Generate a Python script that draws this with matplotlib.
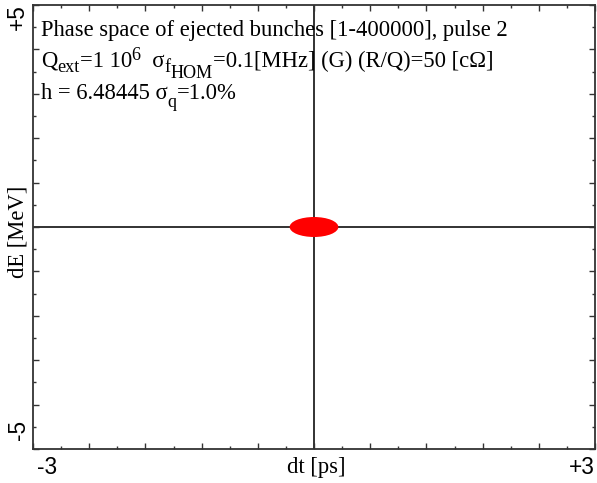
import matplotlib
matplotlib.use("Agg")
import matplotlib.pyplot as plt
from matplotlib.patches import Ellipse
from matplotlib.ticker import MultipleLocator

plt.rcParams['font.family'] = ['Liberation Serif', 'DejaVu Serif']

# data
x_limits = [-3, 3]
y_limits = [-5, 5]
x_tick_labels = ["-3", "+3"]
y_tick_labels = ["-5", "+5"]
x_label = "dt [ps]"
y_label = "dE [MeV]"
bunch_center = (0.0, 0.0)
bunch_width_ps = 0.52
bunch_height_mev = 0.45
# text runs: (text, kind)
title_line1 = [("Phase space of ejected bunches [1-400000], pulse 2", 'n')]
title_line2 = [("Q", 'n'), ("ext", 'sub'), ("=1 10", 'n'), ("6", 'sup'),
               ("  σ", 'n'), ("f", 'sub'), ("HOM", 'sub2'),
               ("=0.1[MHz] (G) (R/Q)=50 [cΩ]", 'n')]
title_line3 = [("h = 6.48445 σ", 'n'), ("q", 'subq'), ("=1.0%", 'n')]

W, H = 597, 483
fig = plt.figure(figsize=(W/100, H/100), dpi=100)
ax = fig.add_axes([33/W, 1-449/H, (595-33)/W, (449-5)/H])
ax.set_xlim(*x_limits)
ax.set_ylim(*y_limits)

ax.axhline(0, color='#222222', lw=1.3, zorder=1)
ax.axvline(0, color='#222222', lw=1.3, zorder=1)

ax.add_patch(Ellipse(bunch_center, bunch_width_ps, bunch_height_mev,
                     facecolor='#ff0000', edgecolor='none', zorder=3))

ax.xaxis.set_major_locator(MultipleLocator(0.6))
ax.xaxis.set_minor_locator(MultipleLocator(0.3))
ax.yaxis.set_major_locator(MultipleLocator(1.0))
ax.yaxis.set_minor_locator(MultipleLocator(0.5))
ax.tick_params(which='both', direction='in', top=True, right=True,
               labelbottom=False, labelleft=False, color='#333333')
ax.tick_params(which='major', length=4, width=1)
ax.tick_params(which='minor', length=2, width=1)
for s in ax.spines.values():
    s.set_linewidth(1.3)
    s.set_color('#333333')

fs = 16.3
sans = ['Liberation Sans', 'DejaVu Sans']

def fx(px):
    return px / W

def fy(py):
    return 1 - py / H

fig.text(fx(37), fy(467), x_tick_labels[0], ha='left', va='center', fontsize=fs, family=sans)
fig.text(fx(595), fy(467), x_tick_labels[1], ha='right', va='center', fontsize=fs, family=sans)
fig.text(fx(316), fy(467), x_label, ha='center', va='center', fontsize=fs)
fig.text(fx(17), fy(4), y_tick_labels[1], ha='center', va='top', rotation=90, fontsize=fs, family=sans)
fig.text(fx(19), fy(440), y_tick_labels[0], ha='center', va='bottom', rotation=90, fontsize=fs, family=sans)
fig.text(fx(18), fy(232), y_label, ha='center', va='center', rotation=90, fontsize=fs)

renderer = fig.canvas.get_renderer()
styles = {'n': (1.0, 0), 'sub': (0.8, -5), 'sup': (0.8, 7),
          'sub2': (0.8, -11), 'subq': (0.8, -8)}

def draw_runs(x, ybase, runs):
    for s, kind in runs:
        scale, dy = styles[kind]
        t = fig.text(fx(x), fy(ybase - dy), s, ha='left', va='baseline',
                     fontsize=fs * scale, zorder=4)
        bb = t.get_window_extent(renderer)
        x = bb.x1

draw_runs(41, 36, title_line1)
draw_runs(41, 67, title_line2)
draw_runs(41, 99, title_line3)

fig.savefig("out.png", dpi=100)
